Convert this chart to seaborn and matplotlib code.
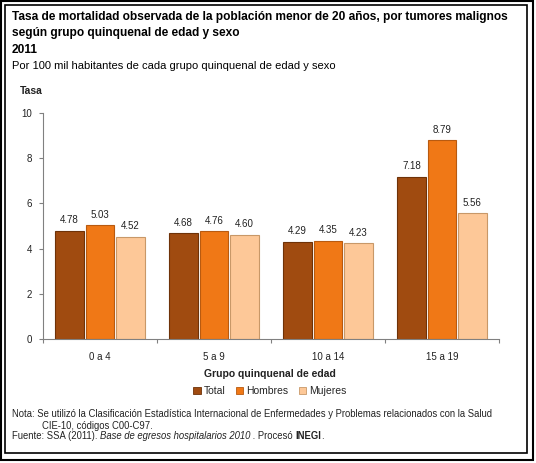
import matplotlib
matplotlib.use("Agg")
import matplotlib.pyplot as plt
from matplotlib.patches import Rectangle, Patch
import seaborn as sns
import pandas as pd

categories = ["0 a 4", "5 a 9", "10 a 14", "15 a 19"]
series_names = ["Total", "Hombres", "Mujeres"]
total = [4.78, 4.68, 4.29, 7.18]
hombres = [5.03, 4.76, 4.35, 8.79]
mujeres = [4.52, 4.60, 4.23, 5.56]
colors = ["#A04B10", "#F07816", "#FDC898"]
edge_colors = ["#6E3208", "#B85A10", "#C89868"]

rows = []
for name, vals in zip(series_names, [total, hombres, mujeres]):
    for c, v in zip(categories, vals):
        rows.append({"Grupo": c, "Sexo": name, "Tasa": v})
df = pd.DataFrame(rows)

sns.set_theme(style="white")
plt.rcParams["font.family"] = ["Liberation Sans", "DejaVu Sans"]

W, H = 536, 463
fig = plt.figure(figsize=(W / 100, H / 100), dpi=100)
ax = fig.add_axes([43 / W, 1 - 339 / H, (499 - 43) / W, (339 - 113) / H])

sns.barplot(data=df, x="Grupo", y="Tasa", hue="Sexo", order=categories,
            hue_order=series_names, palette=colors, width=0.8, gap=0.06,
            linewidth=0.8, ax=ax, legend=False, saturation=1)

for cont, ec in zip(ax.containers, edge_colors):
    for p in cont:
        p.set_edgecolor(ec)
    ax.bar_label(cont, fmt="%.2f", padding=4, fontsize=7, color="#222222")

ax.set_ylim(0, 10)
ax.set_xlim(-0.5, 3.5)
ax.set_yticks([0, 2, 4, 6, 8, 10])
ax.tick_params(axis="y", which="major", left=True, length=3, width=0.8,
               color="#808080", labelsize=7, labelcolor="#222222", pad=5)
ax.tick_params(axis="x", which="major", bottom=False, labelsize=7,
               labelcolor="#222222", pad=3)
ax.set_xticks([-0.5, 0.5, 1.5, 2.5, 3.5], minor=True)
ax.tick_params(axis="x", which="minor", bottom=True, length=3, width=0.8,
               color="#808080")
for s in ["top", "right"]:
    ax.spines[s].set_visible(False)
for s in ["left", "bottom"]:
    ax.spines[s].set_color("#808080")
    ax.spines[s].set_linewidth(0.8)
ax.set_ylabel("")
ax.set_xlabel("")
fig.text(270 / W, 1 - 374 / H, "Grupo quinquenal de edad", fontsize=7.5,
         fontweight="bold", color="#222222", ha="center", va="center")

handles = [Patch(facecolor=c, edgecolor=e, linewidth=0.6) for c, e in zip(colors, edge_colors)]
fig.legend(handles, series_names, loc="center", bbox_to_anchor=(270 / W, 1 - 391 / H),
           ncol=3, frameon=False, fontsize=7.5, handlelength=0.7, handleheight=0.7,
           handletextpad=0.3, columnspacing=1.0, borderaxespad=0)

fig.text(20 / W, 1 - 91 / H, "Tasa", fontsize=7.5, fontweight="bold",
         color="#222222", va="center", ha="left")

# Title block
x0 = 12 / W
fig.text(x0, 1 - 17 / H, "Tasa de mortalidad observada de la población menor de 20 años, por tumores malignos",
         fontsize=8.6, fontweight="bold", va="center", color="black")
fig.text(x0, 1 - 33 / H, "según grupo quinquenal de edad y sexo",
         fontsize=8.6, fontweight="bold", va="center", color="black")
fig.text(x0, 1 - 50 / H, "2011", fontsize=8.6, fontweight="bold", va="center", color="black")
fig.text(x0, 1 - 66 / H, "Por 100 mil habitantes de cada grupo quinquenal de edad y sexo",
         fontsize=8, va="center", color="black")

# Footer
fs = 6.85
fig.text(x0, 1 - 414 / H,
         "Nota: Se utilizó la Clasificación Estadística Internacional de Enfermedades y Problemas relacionados con la Salud",
         fontsize=fs, va="center", color="#222222")
fig.text(42 / W, 1 - 426 / H, "CIE-10, códigos C00-C97.", fontsize=fs, va="center", color="#222222")
t1 = fig.text(x0, 1 - 439 / H, "Fuente: SSA (2011). ", fontsize=fs, va="baseline", color="#222222")
t2 = ax.annotate("Base de egresos hospitalarios 2010", xy=(1, 0), xycoords=t1,
                 fontsize=fs, style="italic", va="bottom", color="#222222", annotation_clip=False)
t3 = ax.annotate(" . Procesó ", xy=(1, 0), xycoords=t2,
                 fontsize=fs, va="bottom", color="#222222", annotation_clip=False)
t4 = ax.annotate("INEGI", xy=(1, 0), xycoords=t3,
                 fontsize=fs, fontweight="bold", va="bottom", color="#222222", annotation_clip=False)
ax.annotate(".", xy=(1, 0), xycoords=t4,
            fontsize=fs, va="bottom", color="#222222", annotation_clip=False)

# Double border
fig.patches.append(Rectangle((1 / W, 1 - 460 / H), 532 / W, 459 / H, transform=fig.transFigure,
                             fill=False, edgecolor="black", linewidth=1.5))
fig.patches.append(Rectangle((5 / W, 1 - 453 / H), 522 / W, 448 / H, transform=fig.transFigure,
                             fill=False, edgecolor="black", linewidth=1.2))

fig.savefig("out.png", dpi=100)
